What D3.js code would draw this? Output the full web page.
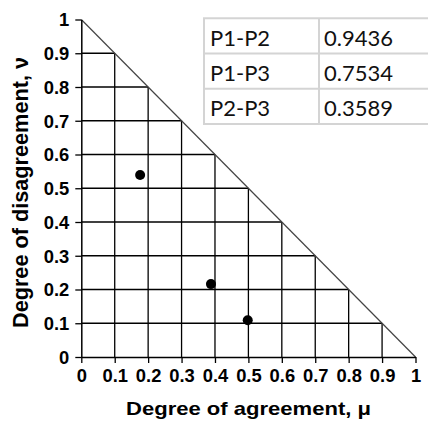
<!DOCTYPE html>
<html>
<head>
<meta charset="utf-8">
<script src="https://cdn.jsdelivr.net/npm/d3@7"></script>
<style>
  body { margin: 0; background: #fff; }
  svg { display: block; }
</style>
</head>
<body>
<script>
// data
var tickValues = [0, 0.1, 0.2, 0.3, 0.4, 0.5, 0.6, 0.7, 0.8, 0.9, 1];
var tickLabels = ["0", "0.1", "0.2", "0.3", "0.4", "0.5", "0.6", "0.7", "0.8", "0.9", "1"];
var gridValues = [0.1, 0.2, 0.3, 0.4, 0.5, 0.6, 0.7, 0.8, 0.9];
var pointMu = [0.176, 0.388, 0.498];
var pointNu = [0.539, 0.216, 0.109];
var pairNames = ["P1-P2", "P1-P3", "P2-P3"];
var pairValues = ["0.9436", "0.7534", "0.3589"];

var W = 428, H = 425;
var svg = d3.select("body").append("svg").attr("width", W).attr("height", H);

var x = d3.scaleLinear().domain([0, 1]).range([81.3, 415.5]);
var y = d3.scaleLinear().domain([0, 1]).range([357, 19.5]);

var stretch = 1.05;
function widen(sel) {
  sel.each(function () {
    var w = this.getComputedTextLength();
    this.setAttribute("textLength", w * stretch);
    this.setAttribute("lengthAdjust", "spacingAndGlyphs");
  });
}

// grid inside the triangle
svg.append("g").selectAll("line.h")
  .data(gridValues).enter().append("line")
  .attr("x1", x(0)).attr("x2", function (d) { return x(1 - d); })
  .attr("y1", function (d) { return y(d); }).attr("y2", function (d) { return y(d); })
  .attr("stroke", "#000").attr("stroke-width", 1.3);

svg.append("g").selectAll("line.v")
  .data(gridValues).enter().append("line")
  .attr("y1", y(0)).attr("y2", function (d) { return y(1 - d); })
  .attr("x1", function (d) { return x(d); }).attr("x2", function (d) { return x(d); })
  .attr("stroke", "#000").attr("stroke-width", 1.3);

// hypotenuse
svg.append("line")
  .attr("x1", x(0)).attr("y1", y(1))
  .attr("x2", x(1)).attr("y2", y(0))
  .attr("stroke", "#444").attr("stroke-width", 1.2);

// axes
var fmt = function (d, i) { return tickLabels[i]; };
var xAxis = svg.append("g").attr("transform", "translate(0," + y(0) + ")")
  .call(d3.axisBottom(x).tickValues(tickValues).tickFormat(fmt).tickSize(6).tickSizeOuter(0).tickPadding(8));
var yAxis = svg.append("g").attr("transform", "translate(" + x(0) + ",0)")
  .call(d3.axisLeft(y).tickValues(tickValues).tickFormat(fmt).tickSize(6).tickSizeOuter(0).tickPadding(6));

[xAxis, yAxis].forEach(function (a) {
  a.attr("font-size", null).attr("font-family", null);
  a.selectAll(".domain").attr("stroke", "#000").attr("stroke-width", 1.5);
  a.selectAll(".tick line").attr("stroke", "#000").attr("stroke-width", 1.3);
  a.selectAll(".tick text")
    .style("font-family", "'Liberation Sans', Arial, sans-serif")
    .style("font-size", "17.5px")
    .style("font-weight", "bold")
    .attr("fill", "#000")
    .call(widen);
});
xAxis.selectAll(".tick text").attr("y", 25).attr("dy", 0);
yAxis.selectAll(".tick text").attr("x", -12).attr("dy", "0.36em");

// points
svg.append("g").selectAll("circle")
  .data(pointMu).enter().append("circle")
  .attr("cx", function (d) { return x(d); })
  .attr("cy", function (d, i) { return y(pointNu[i]); })
  .attr("r", 5)
  .attr("fill", "#000");

// axis titles
svg.append("text")
  .attr("x", 248.5).attr("y", 415)
  .attr("text-anchor", "middle")
  .attr("font-family", "Liberation Sans, Arial, sans-serif")
  .attr("font-weight", "bold")
  .attr("font-size", 18.5)
  .attr("textLength", 245).attr("lengthAdjust", "spacingAndGlyphs")
  .text("Degree of agreement, μ");

svg.append("text")
  .attr("transform", "translate(28,192.5) rotate(-90)")
  .attr("text-anchor", "middle")
  .attr("font-family", "Liberation Sans, Arial, sans-serif")
  .attr("font-weight", "bold")
  .attr("font-size", 21.5)
  .attr("textLength", 271).attr("lengthAdjust", "spacingAndGlyphs")
  .text("Degree of disagreement, ν");

// table
var colX = [204, 319, 430];
var rowY = d3.scaleBand().domain(pairNames).range([18.3, 124]);
var table = svg.append("g");
table.append("rect")
  .attr("x", colX[0]).attr("y", rowY.range()[0])
  .attr("width", colX[2] - colX[0]).attr("height", rowY.range()[1] - rowY.range()[0])
  .attr("fill", "#fff");
var rowEdges = pairNames.map(function (d) { return rowY(d); }).concat([rowY.range()[1]]);
table.selectAll("line.row").data(rowEdges).enter().append("line")
  .attr("x1", colX[0] - 1).attr("x2", colX[2])
  .attr("y1", function (d) { return d; }).attr("y2", function (d) { return d; })
  .attr("stroke", "#d4d4d4").attr("stroke-width", 2);
table.selectAll("line.col").data(colX.slice(0, 2)).enter().append("line")
  .attr("x1", function (d) { return d; }).attr("x2", function (d) { return d; })
  .attr("y1", rowY.range()[0]).attr("y2", rowY.range()[1])
  .attr("stroke", "#d4d4d4").attr("stroke-width", 2);
table.selectAll("text.name").data(pairNames).enter().append("text")
  .attr("x", colX[0] + 6)
  .attr("y", function (d) { return rowY(d) + 27.5; })
  .attr("font-family", "Lato, sans-serif")
  .attr("font-size", 22)
  .attr("fill", "#111")
  .text(function (d) { return d; });
table.selectAll("text.val").data(pairValues).enter().append("text")
  .attr("x", colX[1] + 5)
  .attr("y", function (d, i) { return rowY(pairNames[i]) + 27.5; })
  .attr("font-family", "Lato, sans-serif")
  .attr("font-size", 22)
  .attr("fill", "#111")
  .text(function (d) { return d; });
</script>
</body>
</html>
